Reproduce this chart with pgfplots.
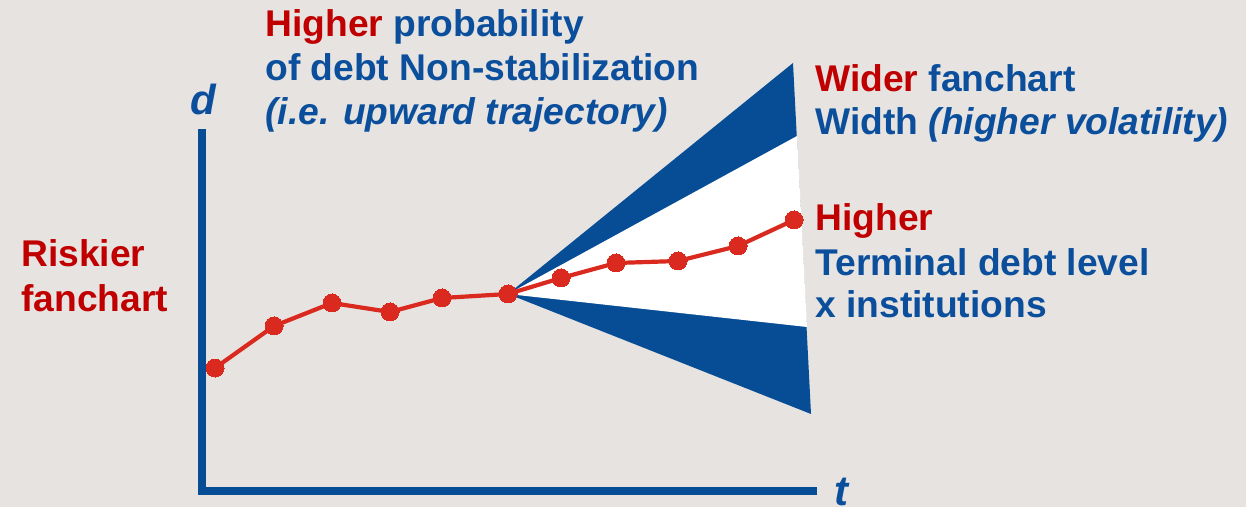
\documentclass[border=0pt]{standalone}
\usepackage{pgfplots}
\pgfplotsset{compat=1.18}
\usepackage{fontspec}
\setmainfont{Liberation Sans}

\definecolor{bgcol}{HTML}{E6E3E0}
\definecolor{fanblue}{HTML}{064D96}
\definecolor{txtblue}{HTML}{0B4F9C}
\definecolor{txtred}{HTML}{C00000}
\definecolor{linered}{HTML}{DA2A20}

\begin{document}
\begin{tikzpicture}
\path[use as bounding box] (0,0) rectangle (623pt,253.5pt);
\begin{axis}[
  at={(0,0)}, anchor=south west,
  scale only axis, width=623pt, height=253.5pt,
  xmin=0, xmax=1246, ymin=0, ymax=507, y dir=reverse,
  hide axis, clip=false,
  axis background/.style={fill=bgcol},
]
% fan of outcomes: outer band, then inner band
\addplot[fill=fanblue, draw=none] coordinates {(508,294) (793,63) (811,414)} -- cycle;
\addplot[fill=white, draw=none] coordinates {(508,294) (797,136) (807,327)} -- cycle;

% debt and time axes
\addplot[draw=fanblue, line width=4pt, line join=miter] coordinates {(202,129) (202,491) (817,491)};

% debt path
\addplot[linered, line width=2.1pt, mark=*, mark size=4.5pt, mark options={fill=linered, draw=linered, line width=0pt}]
  coordinates {(215,368) (274,326) (332,303) (390,312) (442,298) (508,294)
               (561,278) (616,263) (678,261) (738,246) (794,220)};

\begin{scope}[every node/.style={inner sep=0pt, anchor=base west, font=\fontsize{18.6}{22}\selectfont\bfseries}]
\node at (axis cs:190,115) {\fontsize{21}{24}\selectfont\itshape\color{txtblue}d};
\node at (axis cs:834,505) {\fontsize{21}{24}\selectfont\itshape\color{txtblue}t};

\node at (axis cs:265,37) {\color{txtred}Higher \color{txtblue}probability};
\node at (axis cs:265,81) {\color{txtblue}of debt Non-stabilization};
\node at (axis cs:265,125) {\color{txtblue}\itshape(i.e. upward trajectory)};

\node at (axis cs:815,92) {\color{txtred}Wider \color{txtblue}fanchart};
\node at (axis cs:815,135) {\color{txtblue}Width {\itshape(higher volatility)}};

\node at (axis cs:815,231) {\color{txtred}Higher};
\node at (axis cs:815,276) {\color{txtblue}Terminal debt level};
\node at (axis cs:815,318) {\color{txtblue}x institutions};

\node at (axis cs:21,267) {\color{txtred}Riskier};
\node at (axis cs:21,312) {\color{txtred}fanchart};
\end{scope}
\end{axis}
\end{tikzpicture}
\end{document}
